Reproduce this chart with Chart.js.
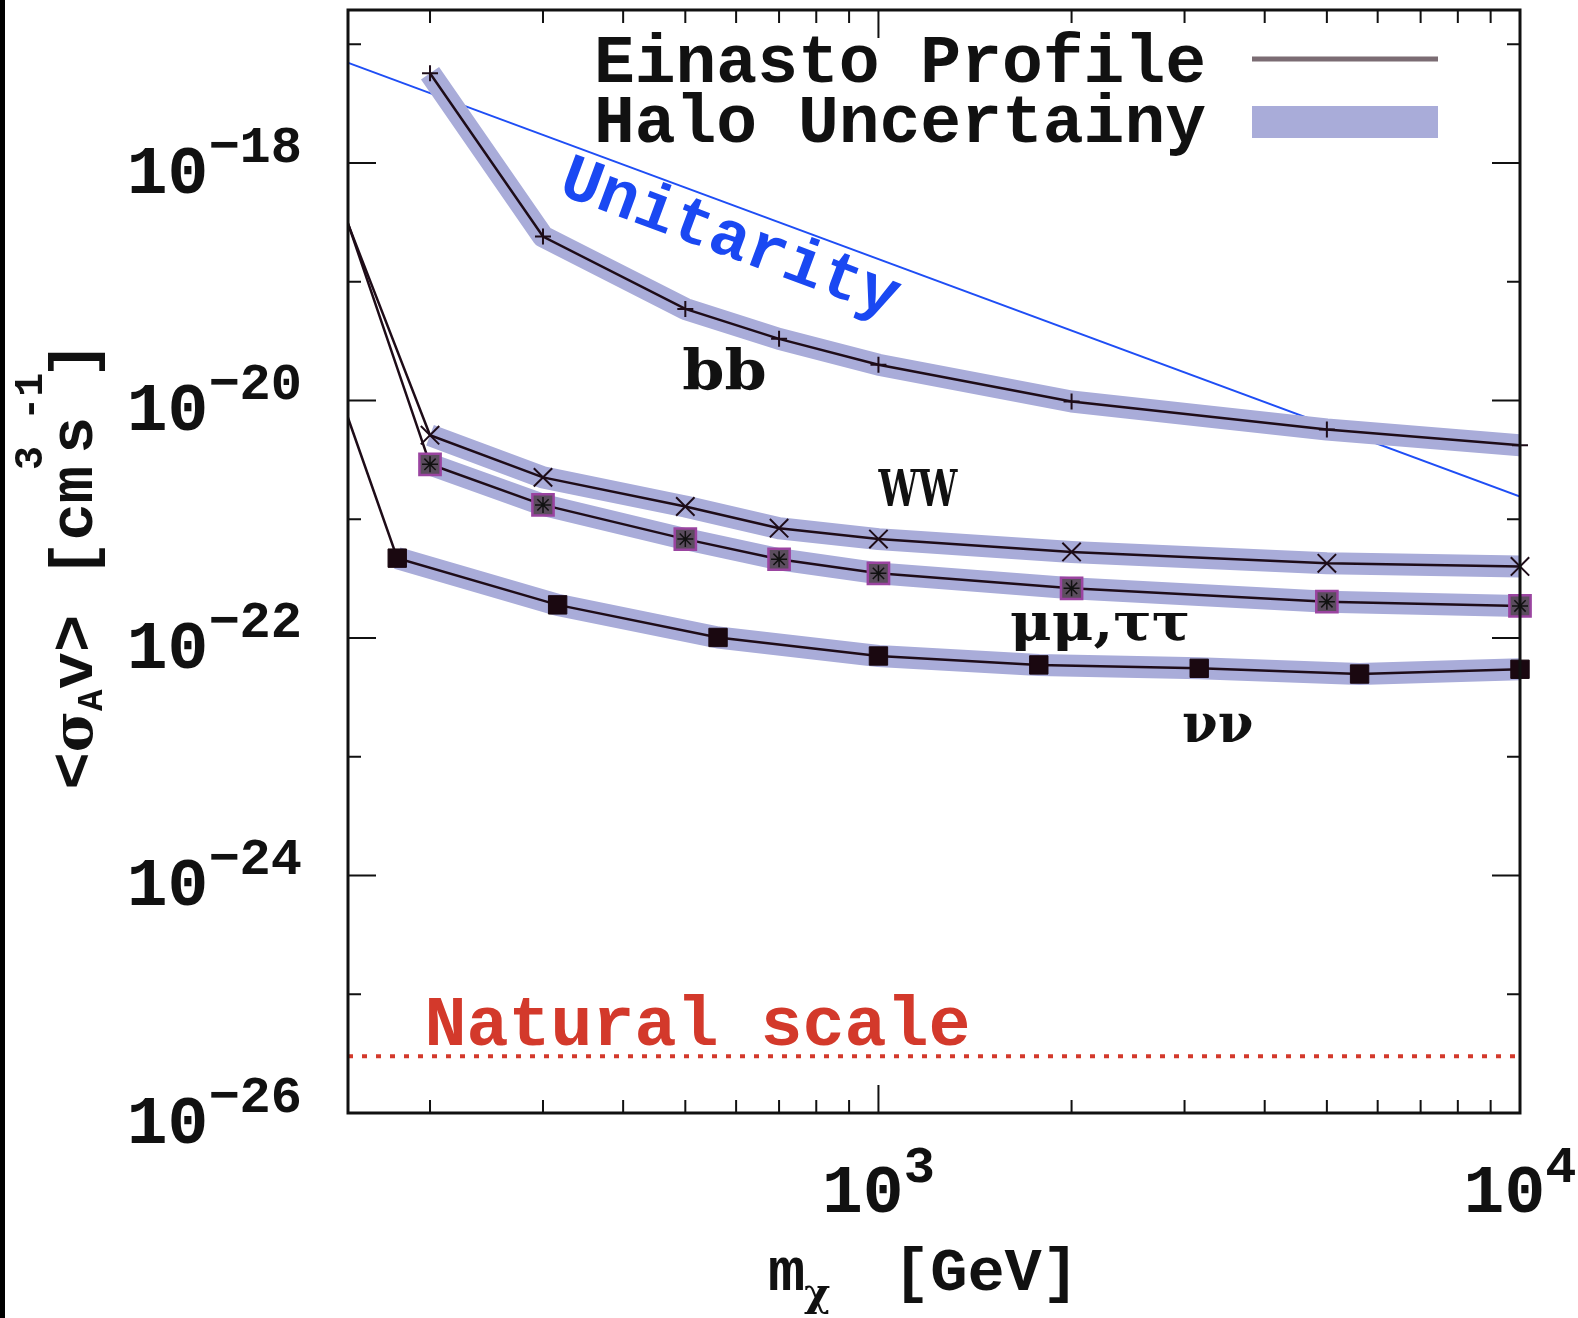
<!DOCTYPE html>
<html>
<head>
<meta charset="utf-8">
<script src="https://cdn.jsdelivr.net/npm/chart.js"></script>
<style>
  html, body { margin: 0; padding: 0; background: #fff; }
  #wrap { position: relative; width: 1578px; height: 1318px; }
  #edge { position: absolute; left: 0; top: 0; width: 5px; height: 1318px; background: #000; }
</style>
</head>
<body>
<div id="wrap"><canvas id="canvas_sigv"></canvas><div id="edge"></div></div>
<script>
// ---- data ----
var masses = [200, 300, 500, 700, 1000, 2000, 5000, 10000];
var lowMass = 100;                       // off-axis first point of the steep segments
var bbVals   = [5.7e-18, 2.4e-19, 5.9e-20, 3.3e-20, 2.0e-20, 9.8e-21, 5.7e-21, 4.2e-21];
var wwVals   = [5.1e-21, 2.25e-21, 1.28e-21, 8.4e-22, 6.8e-22, 5.3e-22, 4.25e-22, 4.0e-22];
var wwLow    = 7.9e-17;
var mumuVals = [2.9e-21, 1.32e-21, 6.8e-22, 4.6e-22, 3.5e-22, 2.62e-22, 2.02e-22, 1.86e-22];
var mumuLow  = 1.73e-16;
var nunuMasses = [177.8, 316.2, 562.3, 1000, 1778, 3162, 5623, 10000];
var nunuVals   = [4.7e-22, 1.9e-22, 1.01e-22, 7.05e-23, 5.93e-23, 5.55e-23, 4.97e-23, 5.45e-23];
var nunuLow    = 3.3e-18;
var unitMasses = [100, 10000];
var unitVals   = [1.55e-17, 1.55e-21];
var naturalScale = 3e-26;

var xRange = [149, 10000];
var yRange = [1e-26, 1.94e-17];
var xMinorTicks = [200, 300, 400, 500, 600, 700, 800, 900, 2000, 3000, 4000, 5000, 6000, 7000, 8000, 9000];
var xMajorTicks = [1000];
var xLabelExps  = [3, 4];
var yTickExps   = [-26, -25, -24, -23, -22, -21, -20, -19, -18, -17];
var yLabelExps  = [-26, -24, -22, -20, -18];

// text annotations, anchored in data units
var curveLabels = [
  {text: 'bb',    x: 574,  y: 1.23e-20, size: 56, width: 81},
  {text: 'WW',    x: 1152, y: 1.29e-21, size: 50, width: 80},
  {text: 'μμ,ττ', x: 2211, y: 9.6e-23,  size: 52, width: 177},
  {text: 'νν',    x: 3377, y: 1.33e-23, size: 54, width: 69}
];
var unitLabel = {text: 'Unitarity', x: 586, y: 2.25e-19};
var naturalLabel = {text: 'Natural scale', x: 196, y: 3.74e-26};

var MONO = '"Liberation Mono", "DejaVu Sans Mono", monospace';
var SERIF = '"DejaVu Serif", "Liberation Serif", serif';
var bandColor = '#a9acd9';
var lineColor = '#1e0c18';

function pts(xs, ys) {
  var out = [];
  for (var i = 0; i < xs.length; i++) out.push({x: xs[i], y: ys[i]});
  return out;
}
function band(xs, ys) {
  return {data: pts(xs, ys), borderColor: bandColor, borderWidth: 22, pointRadius: 0,
          borderJoinStyle: 'round', borderCapStyle: 'butt', order: 5, clip: 0};
}
var markClip = {left: 0, top: 0, right: 20, bottom: 0};

var datasets = [
  {label: 'unitarity', data: pts(unitMasses, unitVals), borderColor: '#1f4ef5', borderWidth: 2,
   pointRadius: 0, order: 10, clip: 0},
  {label: 'natural', data: pts(xRange, [naturalScale, naturalScale]), borderColor: '#d3392b',
   borderWidth: 4, borderDash: [5, 9], pointRadius: 0, order: 10, clip: 0},
  band(masses, bbVals),
  band(masses, wwVals),
  band(masses, mumuVals),
  band(nunuMasses, nunuVals),
  {label: 'bb', data: pts(masses, bbVals), borderColor: lineColor, borderWidth: 2.5,
   pointStyle: 'cross', pointRadius: 8, pointBorderColor: lineColor, pointBorderWidth: 2,
   order: 2, clip: markClip},
  {label: 'WW', data: pts([lowMass].concat(masses), [wwLow].concat(wwVals)), borderColor: lineColor,
   borderWidth: 2.5, pointStyle: 'crossRot', pointRadius: [0, 13, 13, 13, 13, 13, 13, 13, 13],
   pointBorderColor: lineColor, pointBorderWidth: 2, order: 2, clip: markClip},
  {label: 'mumu', data: pts([lowMass].concat(masses), [mumuLow].concat(mumuVals)), borderColor: lineColor,
   borderWidth: 2.5, pointStyle: 'rect', pointRadius: [0, 15, 15, 15, 15, 15, 15, 15, 15],
   pointBackgroundColor: '#5b4d5e', pointBorderColor: '#9a44a0', pointBorderWidth: 2.5,
   order: 2, clip: markClip},
  {label: 'mumu-star', data: pts(masses, mumuVals), showLine: false, pointStyle: 'star',
   pointRadius: 8, pointBorderColor: '#111', pointBorderWidth: 1.5, order: 0, clip: markClip},
  {label: 'nunu', data: pts([lowMass].concat(nunuMasses), [nunuLow].concat(nunuVals)), borderColor: lineColor,
   borderWidth: 2.5, pointStyle: 'rect', pointRadius: [0, 13, 13, 13, 13, 13, 13, 13, 13],
   pointBackgroundColor: '#1a0810', pointBorderColor: '#1a0810', pointBorderWidth: 1,
   order: 2, clip: markClip}
];

// draws a row of text pieces (for sub/superscripts)
function drawRuns(ctx, runs, x, y, align) {
  var total = 0;
  runs.forEach(function (r) {
    ctx.font = r.font;
    r.w = ctx.measureText(r.text).width + (r.gap || 0);
    total += r.w;
  });
  var cx = align === 'right' ? x - total : (align === 'center' ? x - total / 2 : x);
  runs.forEach(function (r) {
    ctx.font = r.font;
    ctx.fillText(r.text, cx + (r.gap || 0), y + (r.dy || 0));
    cx += r.w;
  });
}

var framePlugin = {
  id: 'gnuFrame',
  afterDraw: function (chart) {
    var ctx = chart.ctx, a = chart.chartArea;
    var xs = chart.scales.x, ys = chart.scales.y;
    ctx.save();
    ctx.textAlign = 'left';
    ctx.textBaseline = 'alphabetic';

    // frame
    ctx.strokeStyle = '#111';
    ctx.lineWidth = 3;
    ctx.strokeRect(a.left, a.top, a.right - a.left, a.bottom - a.top);

    // ticks, inward and mirrored
    ctx.lineWidth = 2;
    ctx.beginPath();
    function xTick(v, len) {
      var px = xs.getPixelForValue(v);
      ctx.moveTo(px, a.bottom); ctx.lineTo(px, a.bottom - len);
      ctx.moveTo(px, a.top); ctx.lineTo(px, a.top + len);
    }
    xMinorTicks.forEach(function (v) { xTick(v, 13); });
    xMajorTicks.forEach(function (v) { xTick(v, 28); });
    yTickExps.forEach(function (e) {
      var py = ys.getPixelForValue(Math.pow(10, e));
      var len = (e % 2 === 0) ? 28 : 13;
      ctx.moveTo(a.left, py); ctx.lineTo(a.left + len, py);
      ctx.moveTo(a.right, py); ctx.lineTo(a.right - len, py);
    });
    ctx.stroke();

    // tick labels
    ctx.fillStyle = '#111';
    yLabelExps.forEach(function (e) {
      var py = ys.getPixelForValue(Math.pow(10, e));
      drawRuns(ctx, [
        {text: '10', font: 'bold 68px ' + MONO},
        {text: '\u2212' + Math.abs(e), font: 'bold 52px ' + MONO, dy: -31}
      ], a.left - 46, py + 30, 'right');
    });
    xLabelExps.forEach(function (e) {
      var px = xs.getPixelForValue(Math.pow(10, e));
      drawRuns(ctx, [
        {text: '10', font: 'bold 68px ' + MONO},
        {text: String(e), font: 'bold 52px ' + MONO, dy: -30}
      ], px, a.bottom + 99, 'center');
    });

    // axis titles
    var cxTitle = (a.left + a.right) / 2;
    ctx.font = 'bold 62px ' + MONO;
    ctx.fillText('m', cxTitle - 166, a.bottom + 177);
    ctx.font = 'bold 40px ' + SERIF;
    ctx.fillText('χ', cxTitle - 130, a.bottom + 193);
    ctx.font = 'bold 62px ' + MONO;
    ctx.fillText('[GeV]', cxTitle - 41, a.bottom + 177);

    ctx.save();
    ctx.translate(92, (a.top + a.bottom) / 2 + 4);
    ctx.rotate(-Math.PI / 2);
    drawRuns(ctx, [
      {text: '<', font: 'bold 62px ' + MONO},
      {text: 'σ', font: 'bold 56px ' + SERIF},
      {text: 'A', font: 'bold 36px ' + MONO, dy: 10},
      {text: 'v', font: 'bold 62px ' + MONO},
      {text: '>', font: 'bold 62px ' + MONO},
      {text: ' [cm', font: 'bold 62px ' + MONO},
      {text: '3', font: 'bold 40px ' + MONO, dy: -50, gap: -4},
      {text: 's', font: 'bold 62px ' + MONO, gap: -8},
      {text: '-1', font: 'bold 40px ' + MONO, dy: -50, gap: -4},
      {text: ']', font: 'bold 62px ' + MONO, gap: -6}
    ], 0, 0, 'center');
    ctx.restore();

    // curve labels
    curveLabels.forEach(function (l) {
      var px = xs.getPixelForValue(l.x), py = ys.getPixelForValue(l.y);
      ctx.font = 'bold ' + l.size + 'px ' + SERIF;
      var m = ctx.measureText(l.text);
      var ink = m.actualBoundingBoxLeft + m.actualBoundingBoxRight;
      var s = l.width / ink;
      ctx.save();
      ctx.translate(px, py);
      ctx.scale(s, 1);
      ctx.fillStyle = '#111';
      ctx.fillText(l.text, -ink / 2 + m.actualBoundingBoxLeft, 0);
      ctx.restore();
    });

    // unitarity label, along the line
    var ux0 = xs.getPixelForValue(unitMasses[0]), uy0 = ys.getPixelForValue(unitVals[0]);
    var ux1 = xs.getPixelForValue(unitMasses[1]), uy1 = ys.getPixelForValue(unitVals[1]);
    ctx.save();
    ctx.translate(xs.getPixelForValue(unitLabel.x), ys.getPixelForValue(unitLabel.y));
    ctx.rotate(Math.atan2(uy1 - uy0, ux1 - ux0));
    ctx.font = 'bold 66px ' + MONO;
    ctx.fillStyle = '#1a48f2';
    ctx.textAlign = 'center';
    ctx.textBaseline = 'middle';
    ctx.fillText(unitLabel.text, 0, 0);
    ctx.restore();

    // natural scale label
    ctx.font = 'bold 70px ' + MONO;
    ctx.fillStyle = '#d3392b';
    ctx.fillText(naturalLabel.text, xs.getPixelForValue(naturalLabel.x), ys.getPixelForValue(naturalLabel.y));

    // legend (sample to the right of the text)
    ctx.fillStyle = '#111';
    ctx.font = 'bold 68px ' + MONO;
    ctx.textAlign = 'right';
    ctx.fillText('Einasto Profile', a.right - 314, a.top + 72);
    ctx.fillText('Halo Uncertainy', a.right - 314, a.top + 132);
    ctx.strokeStyle = '#7b6c73';
    ctx.lineWidth = 5;
    ctx.beginPath();
    ctx.moveTo(a.right - 268, a.top + 49);
    ctx.lineTo(a.right - 82, a.top + 49);
    ctx.stroke();
    ctx.fillStyle = bandColor;
    ctx.fillRect(a.right - 268, a.top + 96, 186, 32);
    ctx.restore();
  }
};

var configSigv = {
  type: 'line',
  data: {datasets: datasets},
  options: {
    responsive: true,
    maintainAspectRatio: false,
    animation: false,
    layout: {autoPadding: false, padding: {left: 348, right: 58, top: 10, bottom: 205}},
    plugins: {legend: {display: false}, tooltip: {enabled: false}},
    elements: {line: {tension: 0}},
    scales: {
      x: {type: 'logarithmic', min: xRange[0], max: xRange[1], display: false},
      y: {type: 'logarithmic', min: yRange[0], max: yRange[1], display: false}
    }
  },
  plugins: [framePlugin]
};

var ctx_sigv = document.getElementById('canvas_sigv').getContext('2d');
new Chart(ctx_sigv, configSigv);
</script>
</body>
</html>
